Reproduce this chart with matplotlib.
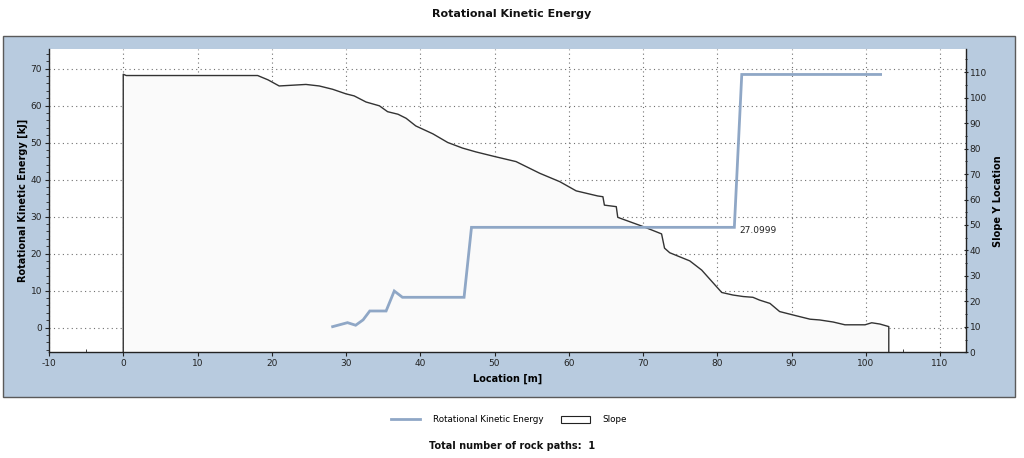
import matplotlib
matplotlib.use("Agg")
import matplotlib.pyplot as plt
from matplotlib.patches import Rectangle, Patch
from matplotlib.lines import Line2D
from matplotlib.ticker import MultipleLocator

# Slope profile (Location [m], Slope Y Location)
slope_x = [0.0, 0.0, 0.4, 18.1, 19.5, 21.0, 24.6, 26.4, 28.2, 30.0, 31.1, 32.7, 34.5, 35.6,
           37.0, 38.1, 39.4, 41.7, 43.7, 45.7, 47.5, 50.0, 52.9, 56.1, 58.8, 61.0, 63.9,
           64.6, 64.8, 66.4, 66.6, 70.0, 72.5, 72.9, 73.6, 76.3, 77.9, 80.6, 82.1, 83.5,
           84.8, 85.7, 87.1, 88.4, 90.7, 92.5, 93.8, 95.6, 97.2, 99.9, 100.8, 101.9,
           103.1, 103.1]
slope_y = [0.0, 109.2, 108.7, 108.7, 107.0, 104.6, 105.2, 104.6, 103.3, 101.5, 100.7, 98.3,
           96.8, 94.5, 93.5, 91.9, 88.9, 85.8, 82.4, 80.2, 78.7, 76.9, 74.9, 70.3, 67.0,
           63.4, 61.4, 61.1, 57.8, 57.2, 53.0, 49.4, 46.5, 40.9, 39.1, 35.9, 32.3, 23.5,
           22.5, 21.9, 21.6, 20.5, 19.2, 16.0, 14.3, 13.0, 12.7, 11.9, 10.8, 10.8, 11.6,
           11.1, 10.1, 0.0]

# Rotational kinetic energy path (Location [m], kJ)
energy_x = [28.2, 30.2, 31.3, 32.3, 33.2, 35.4, 36.5, 37.6, 45.9, 46.9, 82.3, 83.3, 102.0]
energy_y = [0.27, 1.35, 0.65, 2.1, 4.5, 4.5, 9.9, 8.2, 8.2, 27.0999, 27.0999, 68.4, 68.4]

label_x = 83.0
label_value = 27.0999

title = "Rotational Kinetic Energy"
x_label = "Location [m]"
y_label = "Rotational Kinetic Energy [kJ]"
y2_label = "Slope Y Location"
legend_labels = ["Rotational Kinetic Energy", "Slope"]
footer = "Total number of rock paths:  1"

plt.rcParams['font.family'] = ['DejaVu Sans']
plt.rcParams['axes.unicode_minus'] = False

fig = plt.figure(figsize=(10.24, 4.58), dpi=100)
fig.patch.set_facecolor("white")

panel = Rectangle((3 / 1024, 1 - 396.5 / 458), 1012 / 1024, (396.5 - 36) / 458,
                  transform=fig.transFigure, facecolor="#b8cbdf", edgecolor="#5a5a5a",
                  linewidth=1.0, zorder=0)
fig.patches.append(panel)

ax = fig.add_axes([49 / 1024, 1 - 352.3 / 458, (966 - 49) / 1024, (352.3 - 49.3) / 458])
ax2 = ax.twinx()
ax.set_zorder(1)
ax2.set_zorder(2)
ax2.patch.set_visible(False)
ax.set_facecolor("white")

ax.set_xlim(-10, 113.5)
ax.set_ylim(-6.66, 75.2)
ax2.set_ylim(0, 119)

ax.set_axisbelow(True)
ax.grid(True, which="major", linestyle=(0, (1, 3)), color="#707070", linewidth=0.8)

# slope on the right-axis scale
ax.fill(slope_x, slope_y, transform=ax2.transData, facecolor="#fafafa",
        edgecolor="none", zorder=1)
ax.plot(slope_x, slope_y, transform=ax2.transData, color="#333333", linewidth=1.0, zorder=1.5)

ax.plot(energy_x, energy_y, color="#8fa7c6", linewidth=2.0, zorder=3, solid_joinstyle="miter")
ax.annotate(f"{label_value:.4f}", xy=(label_x, label_value), xytext=(0, -2.5),
            textcoords="offset points", ha="left", va="center", fontsize=6.5, color="#222222",
            zorder=4)

ax.xaxis.set_major_locator(MultipleLocator(10))
ax.xaxis.set_minor_locator(MultipleLocator(5))
ax.yaxis.set_major_locator(MultipleLocator(10))
ax.yaxis.set_minor_locator(MultipleLocator(2))
ax2.yaxis.set_major_locator(MultipleLocator(10))
ax2.yaxis.set_minor_locator(MultipleLocator(5))

for a in (ax, ax2):
    a.spines["top"].set_visible(False)
    for s in a.spines.values():
        s.set_color("#222222")
        s.set_linewidth(1.0)
ax.spines["right"].set_visible(False)
ax2.spines["left"].set_visible(False)
ax2.spines["bottom"].set_visible(False)

ax.tick_params(axis="both", which="major", labelsize=6.5, length=3, width=0.8,
               color="#222222", labelcolor="#222222", pad=2)
ax.tick_params(axis="both", which="minor", length=2, width=0.6, color="#222222")
ax.tick_params(axis="x", which="minor", direction="in")
ax2.tick_params(axis="y", which="major", labelsize=6.5, length=3, width=0.8,
                direction="inout", color="#222222", labelcolor="#222222", pad=1)
ax2.tick_params(axis="y", which="minor", length=2, width=0.6, direction="inout")

ax.set_xlabel(x_label, fontsize=7, fontweight="bold", labelpad=4)
ax.set_ylabel(y_label, fontsize=7, fontweight="bold", labelpad=1.5)
ax2.set_ylabel(y2_label, fontsize=7, fontweight="bold", labelpad=4.5)

fig.text(0.5, 1 - 14 / 458, title, ha="center", va="center", fontsize=8,
         fontweight="bold", color="#111111")

handles = [Line2D([0], [0], color="#8fa7c6", linewidth=2.0),
           Patch(facecolor="white", edgecolor="#222222", linewidth=0.8)]
fig.legend(handles, legend_labels, loc="center", bbox_to_anchor=(0.497, 1 - 420 / 458),
           ncol=2, frameon=False, fontsize=6.3, handlelength=3.4, handleheight=0.8,
           handletextpad=1.4, columnspacing=2.0)

fig.text(0.5, 1 - 446 / 458, footer, ha="center", va="center", fontsize=7,
         fontweight="bold", color="#111111")

fig.savefig("out.png", dpi=100)
